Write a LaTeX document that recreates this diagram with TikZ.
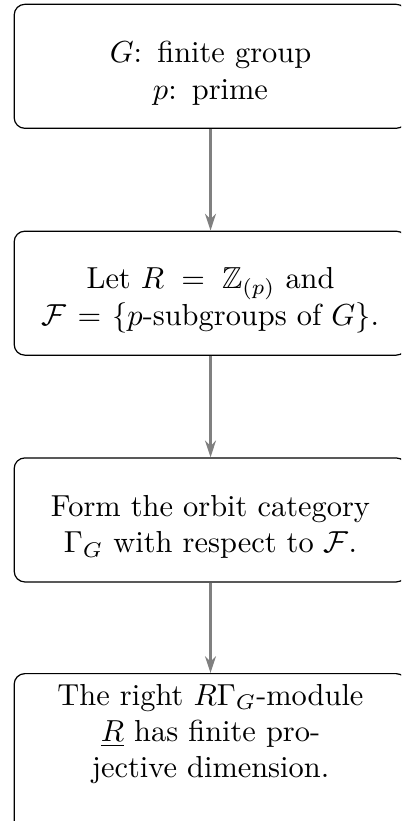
\documentclass[tikz,border=0pt]{standalone}
\usepackage{amsmath,amssymb}
\usetikzlibrary{arrows.meta}
\begin{document}
\begin{tikzpicture}[>={Stealth[length=5.5pt, width=3.6pt]},
		flowbox/.style={draw, rounded corners=3.5pt, align=center, text width=122.5pt, minimum height=40.8pt, text height=11.5pt},
		flowarrow/.style={->, gray, line width=0.8pt}]
		\useasboundingbox (0,0) rectangle (4.637,9.493);
		\clip (0,0) rectangle (4.637,9.493);
		\node[flowbox] (given) at (2.434,8.726) {$G$: finite group\\$p$: prime};
		\node[flowbox] (setup) at (2.434,6.103) {Let $R = \mathbb{Z}_{(p)}$ and\\$\mathcal{F} = \{p$-subgroups of $G\}$.};
		\node[flowbox] (orbit) at (2.434,3.481) {Form the orbit category $\Gamma_G$ with respect to $\mathcal{F}$.};
		\node[flowbox, anchor=north, text height=7pt, text depth=38.6pt] (result) at (2.434,1.711) {The right $R\Gamma_G$-module $\underline{R}$ has finite projective dimension.};
		\draw[flowarrow] (given) -- (setup);
		\draw[flowarrow] (setup) -- (orbit);
		\draw[flowarrow] (orbit) -- (result);
	\end{tikzpicture}
\end{document}
